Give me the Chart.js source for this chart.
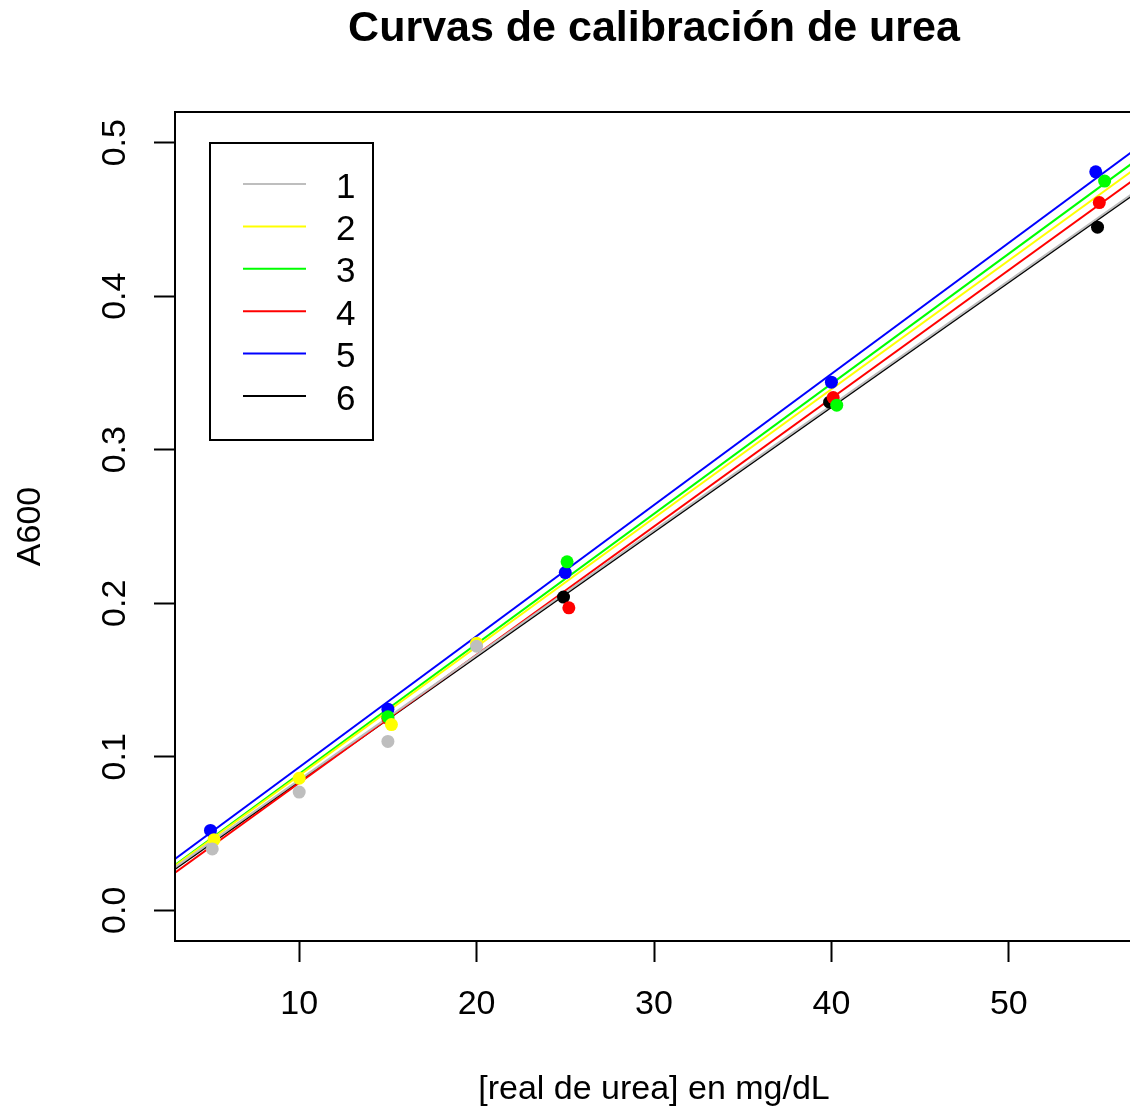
<!DOCTYPE html>
<html lang="es">
<head>
<meta charset="UTF-8">
<title>Curvas de calibración de urea</title>
<script src="https://cdn.jsdelivr.net/npm/chart.js"></script>
<style>
    html, body { margin: 0; padding: 0; background: #fff; overflow: hidden; }
    #wrap { width: 1140px; height: 1116px; }
</style>
</head>
<body>
<div id="wrap"><canvas id="urea"></canvas></div>
<script>
    // series names and colours (R palette)
    const seriesNames = ['1', '2', '3', '4', '5', '6'];
    const seriesColors = ['#bebebe', '#ffff00', '#00ff00', '#ff0000', '#0000ff', '#000000'];

    const x1 = [5.1, 10, 15, 20];
    const y1 = [0.040, 0.077, 0.110, 0.172];
    const x2 = [5.2, 10, 15.2, 20];
    const y2 = [0.046, 0.086, 0.121, 0.174];
    const x3 = [15, 25.1, 40.3, 55.4];
    const y3 = [0.126, 0.227, 0.329, 0.475];
    const x4 = [15, 25.2, 40.1, 55.1];
    const y4 = [0.125, 0.197, 0.334, 0.461];
    const x5 = [5, 15, 25, 40, 54.9];
    const y5 = [0.052, 0.131, 0.220, 0.344, 0.481];
    const x6 = [24.9, 39.9, 55];
    const y6 = [0.204, 0.331, 0.445];

    // fitted calibration lines, value at each end of the x range
    const fitX = [3, 57];
    const fit1 = [0.028, 0.467];
    const fit2 = [0.029, 0.482];
    const fit3 = [0.0295, 0.487];
    const fit4 = [0.0245, 0.4755];
    const fit5 = [0.0334, 0.4946];
    const fit6 = [0.027, 0.466];

    // axes
    const xTicks = [10, 20, 30, 40, 50];
    const yTicks = [0, 0.1, 0.2, 0.3, 0.4, 0.5];

    const pointsX = [x1, x2, x3, x4, x5, x6];
    const pointsY = [y1, y2, y3, y4, y5, y6];
    const fits = [fit1, fit2, fit3, fit4, fit5, fit6];
    const FONT = '"Liberation Sans", Arial, sans-serif';

    const datasets = [];
    seriesNames.forEach((name, i) => {
        datasets.push({
            label: name,
            type: 'line',
            data: fitX.map((x, k) => ({ x: x, y: fits[i][k] })),
            borderColor: seriesColors[i],
            borderWidth: 2,
            pointRadius: 0,
            fill: false,
            order: 2
        });
    });
    seriesNames.forEach((name, i) => {
        datasets.push({
            label: name + ' pts',
            type: 'scatter',
            data: pointsX[i].map((x, k) => ({ x: x, y: pointsY[i][k] })),
            backgroundColor: seriesColors[i],
            borderColor: seriesColors[i],
            borderWidth: 0,
            pointRadius: 6.5,
            showLine: false,
            order: 1
        });
    });

    // box round the plot + R-style legend
    const boxAndLegend = {
        id: 'boxAndLegend',
        afterDraw(chart) {
            const { ctx, chartArea: a } = chart;
            ctx.save();
            ctx.strokeStyle = '#000';
            ctx.lineWidth = 2;
            ctx.strokeRect(a.left, a.top, a.right - a.left, a.bottom - a.top);

            const lx = a.left + 35, ly = a.top + 31;
            ctx.strokeRect(lx, ly, 163, 297);
            ctx.font = '35px ' + FONT;
            ctx.textBaseline = 'middle';
            ctx.fillStyle = '#000';
            const lines = chart.data.datasets.filter(d => d.type === 'line');
            lines.forEach((d, i) => {
                const yy = ly + 41 + i * 42.4;
                ctx.strokeStyle = d.borderColor;
                ctx.lineWidth = 2;
                ctx.beginPath();
                ctx.moveTo(lx + 33, yy);
                ctx.lineTo(lx + 96, yy);
                ctx.stroke();
                ctx.fillText(d.label, lx + 126, yy + 4);
            });
            ctx.restore();
        }
    };

    new Chart(document.getElementById('urea'), {
        type: 'scatter',
        data: { datasets: datasets },
        options: {
            responsive: true,
            maintainAspectRatio: false,
            animation: false,
            layout: { padding: { left: 0, right: 7, top: 0, bottom: 0 } },
            plugins: {
                legend: { display: false },
                tooltip: { enabled: false },
                title: {
                    display: true,
                    fullSize: false,
                    text: 'Curvas de calibración de urea',
                    color: '#000',
                    font: { family: FONT, size: 43, weight: 'bold' },
                    padding: { top: 3, bottom: 57.4 }
                }
            },
            scales: {
                x: {
                    type: 'linear',
                    min: 3,
                    max: 57,
                    afterBuildTicks: s => { s.ticks = xTicks.map(v => ({ value: v })); },
                    afterFit: s => { s.height = 175; },
                    grid: { drawOnChartArea: false, drawTicks: true, tickLength: 21, tickColor: '#000', tickWidth: 2 },
                    border: { display: false },
                    ticks: { color: '#000', font: { family: FONT, size: 34 }, padding: 22, maxRotation: 0 },
                    title: {
                        display: true,
                        text: '[real de urea] en mg/dL',
                        color: '#000',
                        font: { family: FONT, size: 34 },
                        padding: { top: 0, bottom: 6 }
                    }
                },
                y: {
                    type: 'linear',
                    min: -0.02,
                    max: 0.52,
                    afterBuildTicks: s => { s.ticks = yTicks.map(v => ({ value: v })); },
                    afterFit: s => { s.width = 175; },
                    grid: { drawOnChartArea: false, drawTicks: true, tickLength: 21, tickColor: '#000', tickWidth: 2 },
                    border: { display: false },
                    ticks: {
                        color: '#000',
                        font: { family: FONT, size: 34 },
                        minRotation: 90,
                        maxRotation: 90,
                        crossAlign: 'center',
                        padding: 15,
                        callback: v => Number(v).toFixed(1)
                    },
                    title: {
                        display: true,
                        text: 'A600',
                        color: '#000',
                        font: { family: FONT, size: 34 },
                        padding: { top: 10, bottom: 0 }
                    }
                }
            }
        },
        plugins: [boxAndLegend]
    });
</script>
</body>
</html>
